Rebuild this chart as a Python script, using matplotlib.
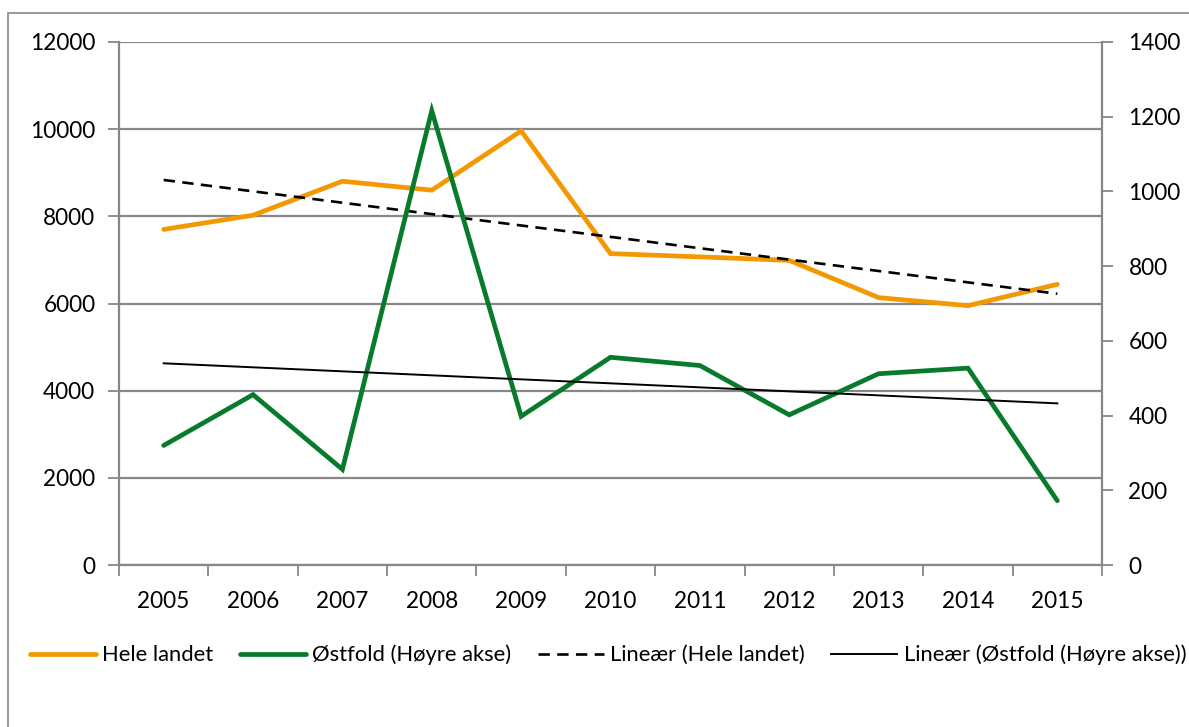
import matplotlib
matplotlib.use("Agg")
import matplotlib.pyplot as plt
import numpy as np
from matplotlib.patches import Rectangle
from matplotlib.lines import Line2D

years = ["2005", "2006", "2007", "2008", "2009", "2010", "2011", "2012", "2013", "2014", "2015"]
hele_landet = [7700, 8025, 8805, 8600, 9960, 7145, 7070, 6990, 6135, 5950, 6440]
ostfold = [320, 456, 256, 1216, 398, 556, 534, 402, 512, 527, 172]

plt.rcParams['font.family'] = ['Lato', 'DejaVu Sans']
FS = 16.3
LFS = 15.8
GRAY = '#878787'
ORANGE = '#F39800'
GREEN = '#077A2B'

W, H = 1189, 727
fig = plt.figure(figsize=(W / 100, H / 100), dpi=100)
fig.patch.set_facecolor('white')

ax = fig.add_axes([119 / W, 1 - 565 / H, (1102 - 119) / W, (565 - 42) / H])
ax2 = ax.twinx()

x = np.arange(len(years))

# trendlines (least squares fit of the series)
c1 = np.polyfit(x, hele_landet, 1)
c2 = np.polyfit(x, ostfold, 1)

ax.plot(x, hele_landet, color=ORANGE, lw=3.4, solid_capstyle='round', solid_joinstyle='miter', zorder=3)
ax.plot(x, np.polyval(c1, x), color='black', lw=1.9, ls=(0, (4.3, 2.8)), zorder=4)
ax2.plot(x, ostfold, color=GREEN, lw=3.4, solid_capstyle='round', solid_joinstyle='miter', zorder=3)
ax2.plot(x, np.polyval(c2, x), color='black', lw=1.4, zorder=4)

ax.set_xlim(-0.5, len(years) - 0.5)
ax.set_ylim(0, 12000)
ax2.set_ylim(0, 1400)
ax.set_yticks(np.arange(0, 12001, 2000))
ax2.set_yticks(np.arange(0, 1401, 200))

ax.set_xticks(np.arange(-0.5, len(years), 1.0))
ax.set_xticklabels([])
ax.set_xticks(x, minor=True)
ax.set_xticklabels(years, minor=True)
ax.tick_params(axis='x', which='major', length=8, width=1.3, color=GRAY, direction='out')
ax.tick_params(axis='x', which='minor', length=0, pad=19, labelsize=FS)
ax.tick_params(axis='y', length=8, width=1.3, color=GRAY, labelsize=FS, pad=9)
ax2.tick_params(axis='y', length=8, width=1.3, color=GRAY, labelsize=FS, pad=11)

ax.grid(axis='y', color=GRAY, lw=1.6)
ax.set_axisbelow(True)
for a in (ax, ax2):
    a.spines['top'].set_visible(False)
    for s in ('left', 'right', 'bottom'):
        a.spines[s].set_color(GRAY)
        a.spines[s].set_linewidth(1.6)
ax2.spines['left'].set_visible(False)
ax2.spines['bottom'].set_visible(False)
ax.spines['right'].set_visible(False)

handles = [
    Line2D([], [], color=ORANGE, lw=3.4, solid_capstyle='round'),
    Line2D([], [], color=GREEN, lw=3.4, solid_capstyle='round'),
    Line2D([], [], color='black', lw=1.9, ls=(0, (4.3, 2.8))),
    Line2D([], [], color='black', lw=1.4),
]
labels = ["Hele landet", "Østfold (Høyre akse)", "Lineær (Hele landet)", "Lineær (Østfold (Høyre akse))"]
fig.legend(handles, labels, loc='center', bbox_to_anchor=(608 / W, 1 - 655 / H), ncol=4,
           frameon=False, fontsize=LFS, handlelength=3.0, handletextpad=0.3, columnspacing=1.2,
           borderpad=0, borderaxespad=0)

fig.add_artist(Rectangle((8 / W, -0.1), 2.0, 1.1 - 13 / H, transform=fig.transFigure,
                         fill=False, edgecolor=GRAY, lw=1.2))

fig.savefig("out.png", dpi=100, facecolor='white')
